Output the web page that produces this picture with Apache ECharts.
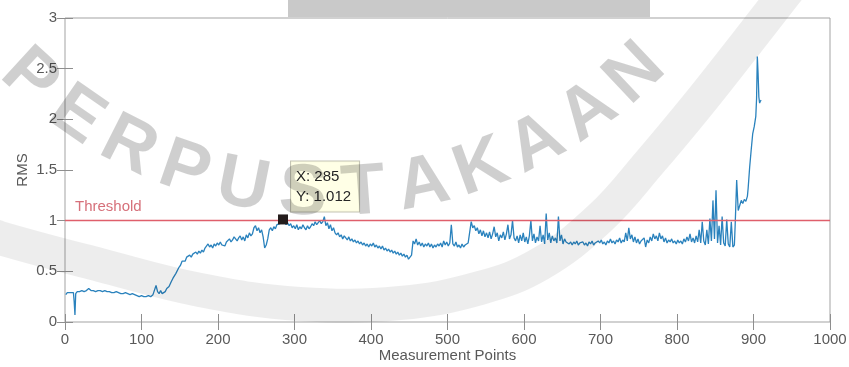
<!DOCTYPE html>
<html>
<head>
<meta charset="utf-8">
<script src="https://cdn.jsdelivr.net/npm/echarts@6/dist/echarts.min.js"></script>
<style>
  html, body { margin: 0; padding: 0; background: #ffffff; }
  #chart { width: 849px; height: 367px; }
</style>
</head>
<body>
<div id="chart"></div>
<script>
// RMS trace per measurement point, split into stretches of the run
const quietStart = [
  [1,0.27],[3,0.29],[5,0.30],[7,0.29],[9,0.30],[11,0.29],[12,0.20],[13,0.07],[14,0.28],[16,0.30],
  [19,0.30],[22,0.31],[25,0.30],[28,0.31],[31,0.33],[34,0.31],[37,0.31],[40,0.30],[43,0.31],[46,0.31],
  [49,0.30],[52,0.31],[55,0.30],[58,0.30],[61,0.29],[64,0.29],[67,0.30],[70,0.29],[73,0.28],[76,0.28],
  [79,0.29],[82,0.28],[85,0.27],[88,0.28],[91,0.27],[94,0.26],[97,0.25],[100,0.26],[103,0.25],[106,0.25],
  [109,0.26],[112,0.25],[115,0.27],[117,0.26],[119,0.36],[121,0.30],[123,0.28],[125,0.31],[127,0.28],[129,0.27],
  [131,0.30],[133,0.33]
];
const riseSegment = [
  [136,0.35],[139,0.40],[141,0.43],[143,0.42],[145,0.48],[147,0.47],[149,0.54],[151,0.56],[153,0.60],[155,0.61],
  [157,0.60],[159,0.64],[161,0.63],[163,0.66],[165,0.64],[167,0.67],[169,0.66],[171,0.69],[173,0.67],[175,0.70],
  [177,0.68],[179,0.71],[181,0.69],[183,0.73],[185,0.72],[187,0.77],[189,0.74],[191,0.76],[193,0.73],[195,0.77],
  [197,0.75],[199,0.78],[201,0.76],[203,0.79],[205,0.76],[207,0.77],[209,0.75],[211,0.79],[213,0.78],[215,0.82],
  [217,0.79],[219,0.81],[221,0.84],[223,0.82],[225,0.80],[227,0.83],[229,0.85],[231,0.81],[233,0.84],[235,0.80],
  [237,0.86],[239,0.83],[241,0.88],[243,0.85],[245,0.87],[247,0.93],[249,0.95],[251,0.90],[253,0.93],[255,0.88],
  [257,0.91],[259,0.84]
];
const plateauSegment = [
  [261,0.73],[263,0.76],[265,0.82],[267,0.91],[269,0.93],[271,0.90],[273,0.94],[275,0.92],[277,0.96],[279,0.95],
  [281,0.97],[283,0.99],[285,1.012],[287,0.98],[289,0.96],[291,0.98],[293,0.95],[295,0.97],[297,0.93],[299,0.95],
  [301,0.92],[303,0.96],[305,0.91],[307,0.94],[309,0.92],[311,0.96],[313,0.93],[315,0.91],[317,0.95],[319,0.92],
  [321,0.94],[323,0.97],[325,0.95],[327,0.99],[329,0.96],[331,0.98],[333,1.00],[335,0.97],[337,0.99],[339,1.04],
  [341,0.95],[343,0.98],[345,0.92],[347,0.96],[349,0.90],[351,0.93]
];
const declineSegment = [
  [353,0.88],[355,0.86],[357,0.88],[359,0.84],[361,0.86],[363,0.82],[365,0.85],[367,0.83],[369,0.81],[371,0.84],
  [373,0.80],[375,0.82],[377,0.79],[379,0.81],[381,0.78],[383,0.80],[385,0.77],[387,0.79],[389,0.76],[391,0.78],
  [393,0.75],[395,0.77],[397,0.74],[399,0.77],[401,0.75],[403,0.78],[405,0.74],[407,0.76],[409,0.73],[411,0.75],
  [413,0.72],[415,0.75],[417,0.71],[419,0.73],[421,0.70],[423,0.72],[425,0.69],[427,0.71],[429,0.68],[431,0.70],
  [433,0.67],[435,0.69],[437,0.66],[439,0.68],[441,0.65],[443,0.67],[445,0.64],[447,0.66],[449,0.62],[451,0.64],
  [453,0.66]
];
const midSegment = [
  [455,0.80],[457,0.77],[459,0.82],[461,0.76],[463,0.79],[465,0.75],[467,0.78],[469,0.74],[471,0.77],[473,0.75],
  [475,0.78],[477,0.74],[479,0.77],[481,0.73],[483,0.76],[485,0.74],[487,0.77],[489,0.75],[491,0.78],[493,0.74],
  [495,0.80],[497,0.76],[499,0.79],[501,0.75],[503,0.78],[505,0.96],[507,0.77],[509,0.75],[511,0.79],[513,0.74],
  [515,0.76],[517,0.73],[519,0.77],[521,0.74],[523,0.76],[525,0.75],[527,0.78],[529,0.77],[531,0.99],[533,0.93],
  [535,0.95],[537,0.90],[539,0.93],[541,0.87],[543,0.91],[545,0.85],[547,0.90],[549,0.84],[551,0.88],[553,0.83],
  [555,0.89],[557,0.82],[559,0.87],[561,0.94],[563,0.84],[565,0.88],[567,0.80],[569,0.86],[571,0.83],[573,0.89],
  [575,0.81],[577,0.87],[579,0.96],[581,0.82],[583,0.86],[585,1.00],[587,0.83],[589,0.80],[591,0.85],[593,0.78],
  [595,0.86],[597,0.80],[599,0.88],[601,0.79],[603,0.84],[605,0.77],[607,0.85],[609,1.00],[611,0.80],[613,0.87],
  [615,0.78],[617,0.84],[619,0.80],[621,0.95],[623,0.79],[625,0.86],[627,0.77],[629,1.07],[631,0.81],[633,0.88],
  [635,0.78],[637,0.85],[639,0.80],[641,0.83],[643,0.78],[645,1.04],[647,0.80],[649,0.86],[651,0.77]
];
const steadySegment = [
  [653,0.82],[655,0.79],[657,0.80],[659,0.77],[661,0.79],[663,0.76],[665,0.79],[667,0.77],[669,0.80],[671,0.76],
  [673,0.78],[675,0.77],[677,0.79],[679,0.76],[681,0.78],[683,0.75],[685,0.79],[687,0.77],[689,0.80],[691,0.76],
  [693,0.78],[695,0.77],[697,0.80],[699,0.78],[701,0.81],[703,0.77],[705,0.79],[707,0.76],[709,0.80],[711,0.78],
  [713,0.82],[715,0.78],[717,0.80],[719,0.77],[721,0.81],[723,0.79],[725,0.83],[727,0.78],[729,0.81],[731,0.79],
  [733,0.88],[735,0.80],[737,0.93],[739,0.82],[741,0.86],[743,0.79],[745,0.84],[747,0.78],[749,0.82],[751,0.77],
  [753,0.80],[755,0.79],[757,0.83],[759,0.74],[761,0.81],[763,0.78],[765,0.84],[767,0.80],[769,0.87],[771,0.82],
  [773,0.85],[775,0.80],[777,0.88],[779,0.82],[781,0.85],[783,0.79],[785,0.83],[787,0.78],[789,0.81],[791,0.79],
  [793,0.82],[795,0.78],[797,0.80],[799,0.77],[801,0.81],[803,0.78],[805,0.80],[807,0.77],[809,0.82],[811,0.79],
  [813,0.84],[815,0.80],[817,0.87],[819,0.79],[821,0.83],[823,0.78],[825,0.85],[827,0.79],[829,0.91]
];
const burstSegment = [
  [831,0.78],[833,0.99],[835,0.80],[837,0.76],[839,0.91],[841,0.77],[843,1.02],[845,0.80],[847,1.20],[849,0.82],
  [851,1.30],[853,0.78],[855,0.95],[857,0.76],[859,1.04],[861,0.78],[863,0.75],[865,1.01],[867,0.77],[869,0.74],
  [871,0.99],[873,0.74],[875,0.76],[876,0.95],[878,1.40],[880,1.10],[882,1.15],[884,1.20],[886,1.17],[888,1.21],
  [890,1.19],[892,1.24],[893,1.32],[895,1.53],[897,1.70],[899,1.86],[901,1.93],[903,2.03],[904,2.20],[905,2.62],
  [906,2.45],[907,2.22],[908,2.16],[909,2.18],[910,2.19]
];

// axis ticks
const xTicks = { min: 0, max: 1000, step: 100 };
const yTicks = { min: 0, max: 3, step: 0.5 };

// alarm level and the highlighted reading
const thresholdLevel = 1;
const thresholdLabel = 'Threshold';
const dataTip = { x: 285, y: 1.012 };

const rmsTrace = [].concat(quietStart, riseSegment, plateauSegment, declineSegment,
                           midSegment, steadySegment, burstSegment);

const FONT = '"Liberation Sans", Arial, Helvetica, sans-serif';
const tickGray = '#8e8e8e';
const labelGray = '#595959';

// library watermark stamped across the plot
const stampWord = 'PERPUSTAKAAN';
const stampInk = 'rgba(0,0,0,0.19)';
const stampCenter = [330, -250];
const stampRadius = 445;
const stampLetters = stampWord.split('').map(function (ch, i) {
  const ang = (-42.5 + i * 7.8) * Math.PI / 180;
  return {
    type: 'text',
    x: stampCenter[0] + stampRadius * Math.sin(ang),
    y: stampCenter[1] + stampRadius * Math.cos(ang),
    rotation: ang,
    z: 50,
    silent: true,
    style: {
      text: ch,
      fill: stampInk,
      font: 'bold 72px ' + FONT,
      textAlign: 'center',
      textVerticalAlign: 'middle'
    }
  };
});
const stampBand = {
  type: 'polyline',
  z: 49,
  silent: true,
  shape: {
    points: [[-20,230],[0,238],[100,265],[200,290],[300,304],[400,303],[480,288],[540,264],
             [600,218],[650,162],[700,102],[745,45],[780,0],[800,-25]],
    smooth: 0.4
  },
  style: { stroke: 'rgba(0,0,0,0.07)', lineWidth: 34, fill: null }
};
const stampBar = {
  type: 'rect',
  z: 50,
  silent: true,
  shape: { x: 288, y: 0, width: 362, height: 17 },
  style: { fill: 'rgba(0,0,0,0.21)' }
};

function valueAxis(range, extra) {
  return Object.assign({
    type: 'value',
    min: range.min,
    max: range.max,
    interval: range.step,
    axisLine: { show: false },
    axisTick: { show: true, inside: true, length: 8, lineStyle: { color: tickGray, width: 1 } },
    splitLine: { show: false }
  }, extra);
}

const plainNumber = function (v) { return String(v); };

const chart = echarts.init(document.getElementById('chart'), null, { renderer: 'canvas' });
chart.setOption({
  animation: false,
  backgroundColor: '#ffffff',
  grid: {
    left: 65, right: 19, top: 18, bottom: 45,
    outerBoundsMode: 'none',
    containLabel: false,
    show: true, borderColor: '#a3a3a3', borderWidth: 1, backgroundColor: 'transparent'
  },
  xAxis: [
    valueAxis(xTicks, {
      position: 'bottom',
      axisLabel: { color: labelGray, fontSize: 15, fontFamily: FONT, margin: 10, formatter: plainNumber },
      name: 'Measurement Points',
      nameLocation: 'middle',
      nameGap: 26,
      nameMoveOverlap: false,
      nameTextStyle: { color: labelGray, fontSize: 15, fontFamily: FONT }
    }),
    valueAxis(xTicks, { position: 'top', axisLabel: { show: false } })
  ],
  yAxis: [
    valueAxis(yTicks, {
      position: 'left',
      axisLabel: { color: labelGray, fontSize: 15, fontFamily: FONT, margin: 8, formatter: plainNumber },
      name: 'RMS',
      nameLocation: 'middle',
      nameGap: 35,
      nameMoveOverlap: false,
      nameTextStyle: { color: labelGray, fontSize: 15, fontFamily: FONT }
    }),
    valueAxis(yTicks, { position: 'right', axisLabel: { show: false } })
  ],
  series: [{
    type: 'line',
    xAxisIndex: 0,
    yAxisIndex: 0,
    data: rmsTrace,
    symbol: 'none',
    showSymbol: false,
    lineStyle: { color: '#2a82bd', width: 1.3 },
    z: 2,
    markLine: {
      silent: true,
      symbol: 'none',
      animation: false,
      data: [{ yAxis: thresholdLevel }],
      lineStyle: { color: '#df5f6b', width: 1.3, type: 'solid' },
      label: {
        show: true,
        position: 'insideStartTop',
        formatter: thresholdLabel,
        color: '#d6707a',
        fontSize: 15,
        fontFamily: FONT,
        distance: [10, 6]
      }
    },
    markPoint: {
      silent: true,
      animation: false,
      symbol: 'rect',
      symbolSize: 10,
      itemStyle: { color: '#241c1c' },
      data: [{ coord: [dataTip.x, dataTip.y] }],
      label: {
        show: true,
        position: [13, -53],
        formatter: function (p) {
          return 'X: ' + p.data.coord[0] + '\nY: ' + p.data.coord[1].toFixed(3);
        },
        color: '#262626',
        fontSize: 15,
        fontFamily: FONT,
        lineHeight: 20,
        align: 'left',
        verticalAlign: 'top',
        backgroundColor: 'rgba(255,255,228,0.92)',
        borderColor: '#c4c4b4',
        borderWidth: 1,
        padding: [5, 8, 5, 5]
      }
    }
  }],
  graphic: { elements: [stampBand, stampBar].concat(stampLetters) }
});
</script>
</body>
</html>
